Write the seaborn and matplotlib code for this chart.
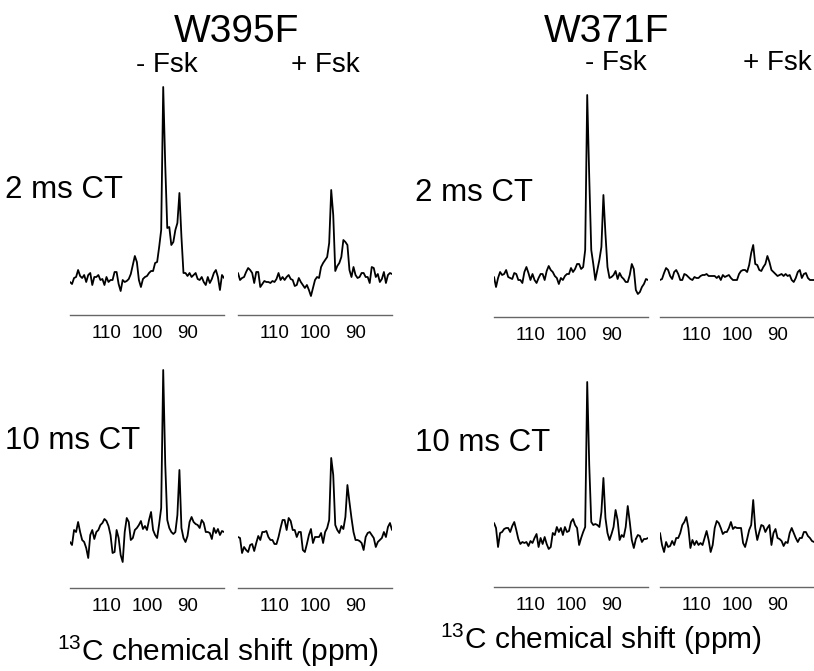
import numpy as np
import matplotlib
matplotlib.use("Agg")
import matplotlib.pyplot as plt
import seaborn as sns

# 13C spectra, 0.5 ppm sampling from 119 to 81 ppm (intensity in a.u.)
ppm = np.linspace(119, 81, 77)

w395f_2ms_minus = [-2, -4, 2, 3, 10, 4, 2, 5, -2, 5, 7, -5, 3, 3, 5, 0, 1, -5, 3, -2,
                   0, 0, 8, 8, -4, -11, 0, -2, -1, 1, 6, 15, 24, 18, 0, -7, 1, 3, 4, 7,
                   9, 9, 17, 18, 33, 50, 193, 115, 52, 53, 35, 38, 50, 57, 87, 43, 7, 7, 4, 7,
                   3, 5, 7, 1, 0, 3, -2, -5, 3, -3, 1, 7, 10, 3, -10, 5, 2]
w395f_2ms_plus = [7, 0, 2, 3, 8, 12, 10, 7, -3, 8, 8, -7, -4, -1, -2, -2, -3, -1, -2, 1,
                  7, 0, 3, 0, 3, 5, 1, 0, -6, -5, 2, -2, -5, -8, -5, -10, -16, -8, 0, 3,
                  2, 13, 17, 20, 23, 37, 90, 65, 9, 14, 17, 23, 40, 38, 35, 10, 3, 13, 5, 2,
                  3, 7, 7, 3, 3, -3, 13, 12, 3, 6, -2, 1, 8, -3, 5, 7, 6]
w371f_2ms_minus = [0, -10, -1, 5, 2, 3, 7, 0, -1, -2, 4, 3, -3, -3, -6, 5, 10, 4, -3, 3,
                   -3, -6, -1, 3, 3, -3, 6, 11, 7, 5, 1, -1, -7, -1, -3, 1, 3, 3, 9, 5,
                   8, 13, 13, 8, 10, 27, 182, 100, 27, 13, -3, 7, 17, 30, 82, 43, 10, -1, 0, 2,
                   6, -2, 4, 0, -2, -5, -5, 2, 13, 8, -13, -17, -15, -10, -7, -2, -3]
w371f_2ms_plus = [-3, -2, 4, 9, 7, 1, -2, 5, 7, 3, -3, -3, 3, 2, 0, -2, -3, 0, -1, -1,
                  1, 2, 2, 3, 1, 1, 1, 1, -1, 1, -3, 2, 0, 1, 2, -1, -3, -3, -3, 3,
                  6, 7, 7, 5, 12, 24, 32, 13, 12, 7, 6, 10, 13, 21, 15, 7, 5, 3, 1, 2,
                  3, 1, 3, 1, 2, -3, -5, -1, 5, 7, -1, 3, 4, -1, -3, -3, -3]
w395f_10ms_minus = [-12, -15, 0, -2, 8, -2, -10, -12, -18, -28, -5, 0, -9, -2, 0, 5, 7, 11, 9, 4,
                    -5, -23, -22, 0, -8, -25, -32, -2, 12, 8, -10, -8, 0, 2, 5, 9, 1, 4, 0, 10,
                    18, 0, -5, -8, 6, 22, 160, 66, 10, 2, -2, -4, -2, 15, 60, 2, -8, -12, -6, 8,
                    13, 8, 6, 5, 2, 10, 7, -2, -2, -3, -9, 2, -3, 1, -5, -1, -2]
w395f_10ms_plus = [-7, -8, -23, -17, -20, -22, -15, -14, -21, -13, -6, -10, -2, -2, -1, -7, -10, -10, -14, -14,
                   -7, 2, 10, 10, 0, 12, 9, 0, 0, -7, -2, -2, -20, -22, -14, -5, 1, -13, -7, -7,
                   -7, -3, -13, -2, 2, 10, 72, 55, 5, 0, -3, 4, 1, 13, 45, 28, 12, -2, -10, -10,
                   -11, -13, -20, -7, -3, -2, -5, -8, -17, -12, -10, -8, -2, -7, 3, 7, 0]
w371f_10ms_minus = [12, 7, -12, 2, 3, 6, 7, 7, 3, 9, 13, 5, -4, -9, -7, -8, -7, -11, -6, -8,
                    -3, 1, -12, -3, -9, -2, -9, -14, -12, 2, 0, 8, 3, 7, 0, 8, 3, 4, 13, 16,
                    10, 7, -10, -3, 3, 8, 153, 70, 13, 10, 11, 10, 8, 23, 57, 17, 2, -5, 1, 8,
                    25, 15, -5, 0, -2, 8, 29, 13, -5, -13, -4, 0, -1, -7, -4, -4, -3]
w371f_10ms_plus = [2, -10, -17, -7, -12, -11, -6, -10, -3, -3, 2, 10, 13, 18, 7, -13, -5, -10, -6, -10,
                   -8, -10, -3, 4, -5, -17, -10, 7, 14, 12, 7, 1, 3, 3, 7, 13, 6, 8, 7, 7,
                   7, -8, -12, -4, 5, 10, 35, 7, -5, 3, 10, 9, 3, 7, 10, -10, 2, 6, -3, -4,
                   -6, -11, -7, -8, 2, 7, 2, -3, -7, -3, -3, 3, 3, -1, -3, -6, -7]

tick_vals = [110, 100, 90]
tick_labels = ["110", "100", "90"]

sns.set_style("white")
plt.rcParams["font.family"] = ["Liberation Sans", "DejaVu Sans"]
plt.rcParams["mathtext.fontset"] = "custom"
plt.rcParams["mathtext.rm"] = "Liberation Sans"
plt.rcParams["text.color"] = "black"
plt.rcParams["xtick.color"] = "black"

W, H = 814, 671
fig = plt.figure(figsize=(W / 100, H / 100), dpi=100)


def px_axes(x0, x1, y0, y1):
    return fig.add_axes([x0 / W, 1 - y1 / H, (x1 - x0) / W, (y1 - y0) / H])


def spectrum(rect, vals, ylim):
    ax = px_axes(*rect)
    sns.lineplot(x=ppm, y=vals, ax=ax, color="black", lw=1.3)
    ax.set_xlim(119, 81)
    ax.set_ylim(*ylim)
    ax.set_xticks(tick_vals)
    ax.set_xticklabels(tick_labels, fontsize=13.5, color="black")
    ax.set_yticks([])
    ax.set_xlabel("")
    ax.set_ylabel("")
    for s in ["top", "left", "right"]:
        ax.spines[s].set_visible(False)
    ax.spines["bottom"].set_color("#666666")
    ax.spines["bottom"].set_linewidth(1.0)
    ax.tick_params(axis="x", length=0, pad=7.5)
    ax.patch.set_alpha(0)
    return ax


# top row
spectrum((70, 224, 80, 315), w395f_2ms_minus, (-35, 200))
spectrum((238, 392, 80, 315), w395f_2ms_plus, (-35, 200))
spectrum((494, 648, 80, 317), w371f_2ms_minus, (-40, 197))
spectrum((660, 814, 80, 317), w371f_2ms_plus, (-40, 197))
# bottom row
spectrum((70, 224, 365, 588), w395f_10ms_minus, (-58, 165))
spectrum((238, 392, 365, 588), w395f_10ms_plus, (-58, 165))
spectrum((494, 648, 365, 587), w371f_10ms_minus, (-52, 170))
spectrum((660, 814, 365, 587), w371f_10ms_plus, (-52, 170))


def label(x, y, s, size, ha="center"):
    fig.text(x / W, 1 - y / H, s, fontsize=size, ha=ha, va="center", color="black")


label(237, 32, "W395F", 28)
label(607, 32, "W371F", 28)
label(167, 65, "- Fsk", 20)
label(325, 65, "+ Fsk", 20)
label(616, 63, "- Fsk", 20)
label(812, 63, "+ Fsk", 20, ha="right")
label(5, 190, "2 ms CT", 22.5, ha="left")
label(415, 193, "2 ms CT", 22.5, ha="left")
label(5, 441, "10 ms CT", 22.5, ha="left")
label(415, 443, "10 ms CT", 22.5, ha="left")
label(218, 651, r"$^{13}$C chemical shift (ppm)", 21.5)
label(601, 639, r"$^{13}$C chemical shift (ppm)", 21.5)

fig.savefig("out.png", dpi=100)
